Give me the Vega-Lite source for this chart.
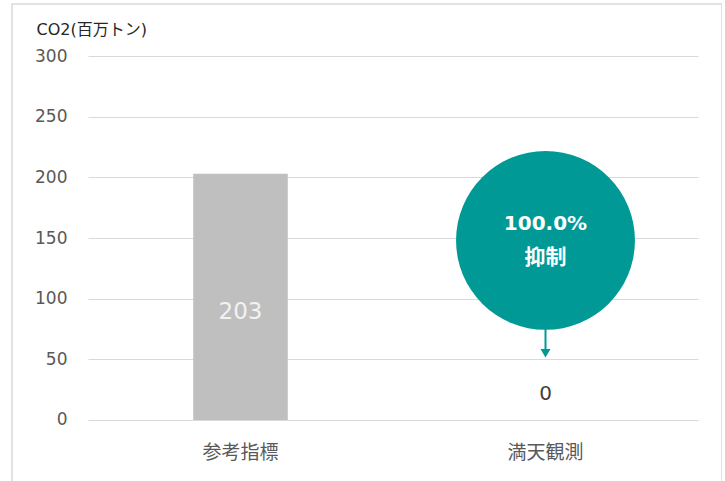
{
  "$schema": "https://vega.github.io/schema/vega-lite/v6.json",
  "width": 710,
  "height": 480,
  "autosize": "none",
  "padding": {"left": 12, "top": 4, "right": 0, "bottom": 0},
  "background": "white",
  "config": {
    "view": {"stroke": "#d9d9d9", "strokeWidth": 1.5},
    "font": "Noto Sans CJK JP"
  },
  "datasets": {
    "main": [
      {"category": "参考指標", "value": 203},
      {"category": "満天観測", "value": 0}
    ],
    "note": [
      {"category": "満天観測", "pct": "100.0%", "word": "抑制", "center": 148, "arrowFrom": 76, "arrowTo": 57, "tip": 55}
    ]
  },
  "encoding": {
    "x": {
      "field": "category",
      "type": "nominal",
      "sort": ["参考指標", "満天観測"],
      "scale": {"range": [76, 686], "paddingInner": 0, "paddingOuter": 0},
      "axis": {
        "title": null,
        "domain": false,
        "ticks": false,
        "labelFontSize": 19,
        "labelColor": "#595959",
        "labelAngle": 0,
        "labelBaseline": "middle",
        "offset": -34,
        "labelPadding": 2
      }
    }
  },
  "layer": [
    {
      "data": {"name": "main"},
      "mark": {"type": "bar", "color": "#bfbfbf", "width": {"band": 0.31}},
      "encoding": {
        "y": {
          "field": "value",
          "type": "quantitative",
          "scale": {"domain": [-52.75, 342.86], "nice": false, "zero": false},
          "axis": {
            "values": [0, 50, 100, 150, 200, 250, 300],
            "grid": true,
            "gridColor": "#d9d9d9",
            "gridWidth": 1,
            "domain": false,
            "ticks": false,
            "labelFontSize": 17,
            "labelColor": "#595959",
            "labelFont": "DejaVu Sans",
            "offset": -57,
            "labelPadding": 2,
            "title": "CO2(百万トン)",
            "titleAngle": 0,
            "titleAlign": "left",
            "titleBaseline": "middle",
            "titleFontSize": 16,
            "titleFont": "DejaVu Sans, Noto Sans CJK JP",
            "titleFontWeight": "normal",
            "titleColor": "#262626",
            "titleX": -33,
            "titleY": 25
          }
        },
        "y2": {"datum": 0}
      }
    },
    {
      "data": {"name": "main"},
      "transform": [{"filter": "datum.category === '参考指標'"}],
      "mark": {"type": "text", "color": "#f2f2f2", "fontSize": 23, "font": "DejaVu Sans", "baseline": "middle", "dy": -108},
      "encoding": {
        "y": {"datum": 0},
        "text": {"field": "value", "type": "quantitative"}
      }
    },
    {
      "data": {"name": "main"},
      "transform": [{"filter": "datum.category === '満天観測'"}],
      "mark": {"type": "text", "color": "#404040", "fontSize": 20, "font": "DejaVu Sans", "baseline": "middle", "dy": -26},
      "encoding": {
        "y": {"field": "value", "type": "quantitative"},
        "text": {"field": "value", "type": "quantitative"}
      }
    },
    {
      "data": {"name": "note"},
      "mark": {"type": "rule", "color": "#009995", "strokeWidth": 2},
      "encoding": {
        "y": {"field": "arrowFrom", "type": "quantitative"},
        "y2": {"field": "arrowTo"}
      }
    },
    {
      "data": {"name": "note"},
      "mark": {"type": "point", "shape": "triangle-down", "filled": true, "color": "#009995", "size": 100, "opacity": 1},
      "encoding": {
        "y": {"field": "tip", "type": "quantitative"}
      }
    },
    {
      "data": {"name": "note"},
      "mark": {"type": "point", "shape": "circle", "filled": true, "color": "#009995", "size": 32000, "opacity": 1},
      "encoding": {
        "y": {"field": "center", "type": "quantitative"}
      }
    },
    {
      "data": {"name": "note"},
      "mark": {"type": "text", "color": "white", "fontSize": 20, "fontWeight": "bold", "font": "DejaVu Sans", "baseline": "middle", "dy": -16},
      "encoding": {
        "y": {"field": "center", "type": "quantitative"},
        "text": {"field": "pct"}
      }
    },
    {
      "data": {"name": "note"},
      "mark": {"type": "text", "color": "white", "fontSize": 21, "fontWeight": "bold", "baseline": "middle", "dy": 18},
      "encoding": {
        "y": {"field": "center", "type": "quantitative"},
        "text": {"field": "word"}
      }
    }
  ]
}
